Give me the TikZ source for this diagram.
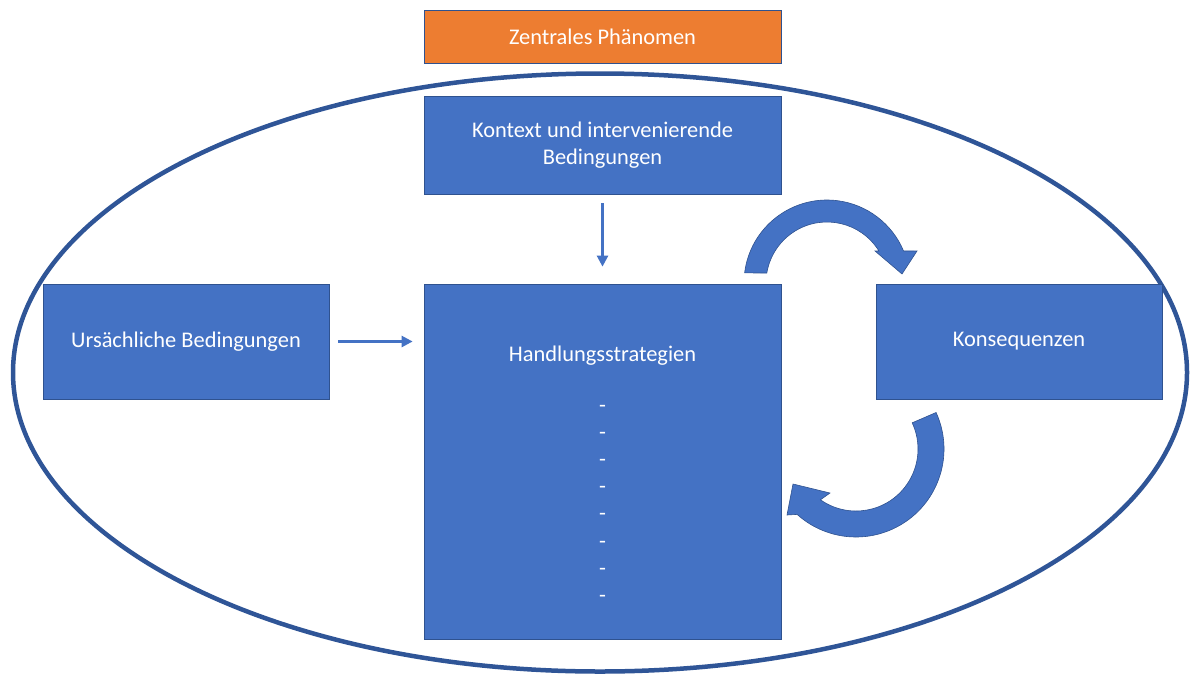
\documentclass[tikz,border=0pt]{standalone}
\usepackage{fontspec}
\setmainfont{Carlito}
\usetikzlibrary{arrows.meta,calc}
\definecolor{boxblue}{HTML}{4472C4}
\definecolor{edgeblue}{HTML}{2F528F}
\definecolor{ringblue}{HTML}{2F5597}
\definecolor{phenorange}{HTML}{ED7D31}
\begin{document}
\begin{tikzpicture}[x=1pt,y=1pt,
  box/.style={draw=edgeblue, line width=0.75pt, fill=boxblue, text=white,
    inner sep=0pt, align=center, font=\fontsize{22.4}{26.5}\selectfont},
  boxtext/.style={text=white, inner sep=0pt, font=\fontsize{22.4}{26.5}\selectfont},
  flow/.style={draw=boxblue, line width=2.5pt, -{Triangle[length=11pt,width=11pt]}},
  curvedarrow/.style={fill=boxblue, draw=edgeblue, line width=0.6pt}]
\useasboundingbox (0,0) rectangle (1190,-675);

% outer frame
\draw[ringblue, line width=4.5pt] (600,-372.5) ellipse[x radius=587, y radius=299];

% boxes
\node[box, fill=phenorange, minimum width=357pt, minimum height=53pt] (zp) at (602.5,-36.5) {Zentrales Phänomen};
\node[box, minimum width=357pt, minimum height=98pt] (ctx) at (602.5,-145) {Kontext und intervenierende\\Bedingungen};
\node[box, minimum width=357pt, minimum height=355pt] (hs) at (602.5,-461.5) {};
\node[box, minimum width=286pt, minimum height=115pt] (ub) at (186,-341.5) {Ursächliche Bedingungen};
\node[box, minimum width=286pt, minimum height=115pt] (ks) at (1019,-341.5) {Konsequenzen};

% contents of the strategy box
\node[boxtext] (hst) at (602.5,-356) {Handlungsstrategien};
\foreach \i in {0,...,7}{
  \node[boxtext] (d\i) at (602.5,{-409-27.1*\i}) {-};
}

% straight connectors
\draw[flow, shorten <=9pt, shorten >=17pt] (ctx.south) -- (hs.north);
\draw[flow, shorten <=9pt, shorten >=11pt] (ub.east) -- (hs.west |- ub.east);

% curved arrows between strategies and consequences
\coordinate (c1) at (827,-283);
\coordinate (c2) at (856,-449);
\draw[curvedarrow] ($(c1)+(173:83)$) arc[start angle=173, end angle=22.7, radius=83]
  -- (917,-251) -- (902,-274) -- (875,-251)
  -- ($(c1)+(31.6:61)$) arc[start angle=31.6, end angle=170.6, radius=61] -- cycle;
\draw[curvedarrow] ($(c2)+(24.5:88)$) arc[start angle=24.5, end angle=-132, radius=88]
  -- (787,-515) -- (793,-484) -- (830,-493)
  -- ($(c2)+(-125:62)$) arc[start angle=-125, end angle=25, radius=62] -- cycle;
\end{tikzpicture}
\end{document}
